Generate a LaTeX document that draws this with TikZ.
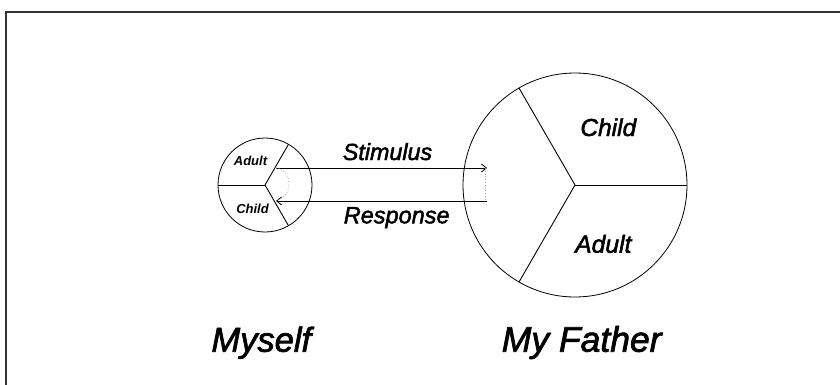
\documentclass[tikz,border=0pt]{standalone}
\usepackage{fontspec}
\setmainfont{Liberation Sans}
\newfontfamily\heavyfont[FakeBold=2]{Liberation Sans}
\usetikzlibrary{arrows.meta}
\begin{document}
\begin{tikzpicture}[x=1pt,y=-1pt,
  ego/.style={circle,draw,line width=0.8pt,inner sep=0pt,outer sep=0pt},
  spoke/.style={line width=0.9pt},
  lbl/.style={anchor=base,inner sep=0pt,font=\heavyfont\itshape\fontsize{#1}{#1}\selectfont},
  small/.style={anchor=base,inner sep=0pt,font=\bfseries\itshape\fontsize{#1}{#1}\selectfont},
  msg/.style={line width=0.8pt,-{Straight Barb[length=5pt,width=8pt]}},
  guide/.style={gray!70,dotted,line width=0.8pt},
  frameline/.style={gray!40!black,line width=1.3pt}]
\useasboundingbox (0,0) rectangle (840,385);
% frame
\draw[frameline] (6,385) -- (6,12) -- (840,12);
% circles
\node[ego,minimum size=94pt] (me) at (265,185) {};
\node[ego,minimum size=224pt] (dad) at (575,185) {};
% spokes
\draw[spoke] (me.center) -- (me.180);
\draw[spoke] (me.center) -- (me.60);
\draw[spoke] (me.center) -- (me.-60);
\draw[spoke] (dad.center) -- (dad.0);
\draw[spoke] (dad.center) -- (dad.120);
\draw[spoke] (dad.center) -- (dad.240);
% arrows
\coordinate (s1) at (276,168);
\coordinate (s2) at (487,168);
\coordinate (r1) at (487,201);
\coordinate (r2) at (276,201);
\coordinate (d1) at (485.5,168);
\coordinate (d2) at (485.5,201);
\draw[msg] (s1) -- (s2);
\draw[msg] (r1) -- (r2);
\draw[guide] (d1) -- (d2);
\draw[guide] (s1) .. controls (293,170) and (293,197) .. (278,199);
% labels
\node[small=13] (sa) at (250.5,165) {Adult};
\node[small=13] (sc) at (252.5,213.3) {Child};
\node[lbl=23.3] (stim) at (387.5,160) {Stimulus};
\node[lbl=23.5] (resp) at (396.7,223.3) {Response};
\node[lbl=24.5] (fc) at (608.3,136) {Child};
\node[lbl=24.7] (fa) at (603.3,252.7) {Adult};
\node[lbl=34.5] (my) at (261.3,351.7) {Myself};
\node[lbl=35.5] (fa2) at (581.7,351.7) {My Father};
\end{tikzpicture}
\end{document}
